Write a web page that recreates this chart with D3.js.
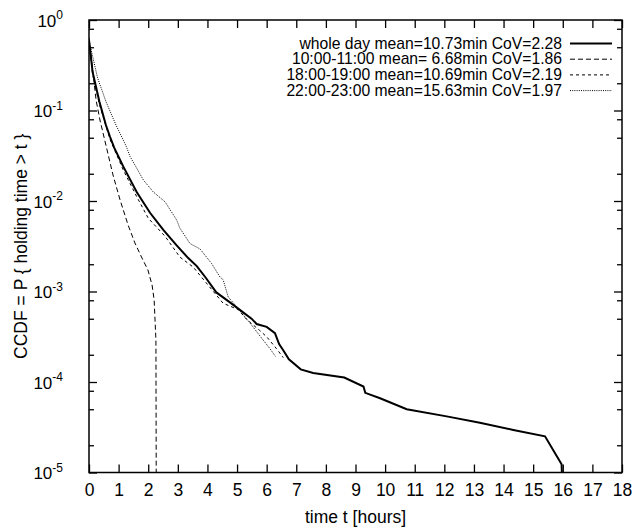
<!DOCTYPE html>
<html lang="en">
<head>
    <meta charset="UTF-8"/>
    <title>CCDF holding time</title>
    <script src="https://d3js.org/d3.v7.min.js"></script>
    <style>
        body {
            margin: 0;
            background: white;
        }

        text {
            font-family: "Liberation Sans", Arial, Helvetica, sans-serif;
            fill: black;
        }
    </style>
</head>
<body>
<div id="chart"></div>

<script>
    // [t in hours, P(holding time > t)]
    const wholeDay = [
        [0, 0.603], [0.12, 0.269], [0.35, 0.126], [0.57, 0.0692], [0.71, 0.0513], [0.85, 0.0389],
        [1.16, 0.0240], [1.61, 0.0126], [2.06, 0.00741], [2.51, 0.00479], [2.96, 0.00324],
        [3.35, 0.00234], [3.64, 0.00191], [3.95, 0.00141], [4.3, 0.000977], [4.76, 0.000759],
        [5.16, 0.000603], [5.49, 0.000501], [5.66, 0.000437], [6.0, 0.000407], [6.28, 0.000347],
        [6.42, 0.000263], [6.56, 0.000224], [6.75, 0.000178], [7.15, 0.000138], [7.57, 0.000126],
        [8.62, 0.000112], [9.27, 0.0000891], [9.33, 0.0000759], [9.83, 0.0000661],
        [10.73, 0.0000501], [12.08, 0.0000417], [13.2, 0.0000355], [14.33, 0.0000295],
        [15.4, 0.0000251], [15.96, 0.0000123], [15.97, 0.00001]
    ];
    const morning = [
        [0, 0.63], [0.24, 0.13], [0.37, 0.0785], [0.61, 0.0366], [0.81, 0.0194], [1.05, 0.01026],
        [1.32, 0.00543], [1.55, 0.00344], [1.79, 0.00234], [1.99, 0.00173], [2.13, 0.00118],
        [2.2, 0.000805], [2.23, 0.000484], [2.26, 0.000291], [2.27, 0.00001]
    ];
    const evening = [
        [0, 0.6], [0.12, 0.251], [0.35, 0.117], [0.71, 0.0479], [1.16, 0.0219], [1.61, 0.0112],
        [2.0, 0.00646], [2.57, 0.00407], [3.07, 0.0024], [3.52, 0.00186], [4.0, 0.0012],
        [4.53, 0.000741], [5.04, 0.000631], [5.33, 0.00049], [5.76, 0.000372], [6.0, 0.000316],
        [6.33, 0.000234], [6.56, 0.000186]
    ];
    const night = [
        [0, 0.63], [0.03, 0.537], [0.29, 0.229], [0.57, 0.126], [0.91, 0.0692], [1.25, 0.0407],
        [1.39, 0.0309], [1.84, 0.017], [2.17, 0.0126], [2.57, 0.00977], [2.96, 0.00617],
        [3.07, 0.00501], [3.41, 0.00339], [3.75, 0.00295], [4.14, 0.00204], [4.42, 0.00145],
        [4.53, 0.00135], [4.70, 0.000871], [4.99, 0.000676], [5.44, 0.000447], [5.89, 0.000288],
        [6.11, 0.000234], [6.3, 0.000191]
    ];

    const legendLabels = [
        "whole day mean=10.73min CoV=2.28",
        "10:00-11:00 mean= 6.68min CoV=1.86",
        "18:00-19:00 mean=10.69min CoV=2.19",
        "22:00-23:00 mean=15.63min CoV=1.97"
    ];
    const xTicks = d3.range(0, 19);
    const yMajor = [1e-5, 1e-4, 1e-3, 1e-2, 1e-1, 1];
    const yMinorMant = [2, 5, 8];

    const width = 642;
    const height = 528;
    const plot = {left: 89, right: 622, top: 20, bottom: 472.5};
    const fontSize = 17.5;

    const svg = d3.select("#chart")
        .append("svg")
        .attr("width", width)
        .attr("height", height);

    const x = d3.scaleLinear().domain([0, 18]).range([plot.left, plot.right]);
    const y = d3.scaleLog().domain([1e-5, 1]).range([plot.bottom, plot.top]);

    svg.append("clipPath")
        .attr("id", "clip")
        .append("rect")
        .attr("x", plot.left)
        .attr("y", plot.top)
        .attr("width", plot.right - plot.left)
        .attr("height", plot.bottom - plot.top);

    // ticks, all pointing inwards
    const yMinor = [];
    yMajor.slice(0, -1).forEach(d => yMinorMant.forEach(m => yMinor.push(d * m)));

    function tickStyle(g) {
        g.select(".domain").remove();
        g.selectAll("line").attr("stroke", "black").attr("stroke-width", 1.3);
    }

    svg.append("g")
        .attr("transform", `translate(0, ${plot.bottom})`)
        .call(d3.axisBottom(x).tickValues(xTicks).tickSize(-8).tickSizeOuter(0).tickPadding(11).tickFormat(d3.format("d")))
        .call(tickStyle)
        .selectAll("text")
        .style("font-size", fontSize + "px")
        .attr("fill", "black");

    svg.append("g")
        .attr("transform", `translate(0, ${plot.top})`)
        .call(d3.axisTop(x).tickValues(xTicks).tickSize(-8).tickSizeOuter(0).tickFormat(""))
        .call(tickStyle);

    [[d3.axisLeft, plot.left], [d3.axisRight, plot.right]].forEach(([ax, pos]) => {
        svg.append("g")
            .attr("transform", `translate(${pos}, 0)`)
            .call(ax(y).tickValues(yMajor).tickSize(-8).tickSizeOuter(0).tickFormat(""))
            .call(tickStyle);
        svg.append("g")
            .attr("transform", `translate(${pos}, 0)`)
            .call(ax(y).tickValues(yMinor).tickSize(-5).tickSizeOuter(0).tickFormat(""))
            .call(tickStyle);
    });

    // y labels 10^n
    const yLab = svg.append("g")
        .selectAll("text")
        .data(yMajor)
        .join("text")
        .attr("x", plot.left - 26)
        .attr("y", d => y(d) + 6.5)
        .attr("text-anchor", "end")
        .style("font-size", "17px");
    yLab.append("tspan").text("10");
    yLab.append("tspan")
        .attr("dy", -7.5)
        .style("font-size", "12px")
        .text(d => Math.round(Math.log10(d)));

    // frame
    svg.append("rect")
        .attr("x", plot.left)
        .attr("y", plot.top)
        .attr("width", plot.right - plot.left)
        .attr("height", plot.bottom - plot.top)
        .attr("fill", "none")
        .attr("stroke", "black")
        .attr("stroke-width", 1.5);

    // axis titles
    svg.append("text")
        .attr("x", (plot.left + plot.right) / 2)
        .attr("y", 523)
        .attr("text-anchor", "middle")
        .style("font-size", fontSize + "px")
        .text("time t [hours]");

    svg.append("text")
        .attr("transform", `translate(27, ${(plot.top + plot.bottom) / 2}) rotate(-90)`)
        .attr("text-anchor", "middle")
        .style("font-size", fontSize + "px")
        .text("CCDF = P { holding time > t }");

    // curves
    const series = [
        {data: wholeDay, width: 2, dash: null},
        {data: morning, width: 1, dash: "5,3"},
        {data: evening, width: 1, dash: "3,3"},
        {data: night, width: 1, dash: "1,1.2"}
    ];

    const line = d3.line()
        .x(d => x(d[0]))
        .y(d => y(d[1]));

    svg.append("g")
        .attr("clip-path", "url(#clip)")
        .selectAll("path")
        .data(series)
        .join("path")
        .attr("d", d => line(d.data))
        .attr("fill", "none")
        .attr("stroke", "black")
        .attr("stroke-width", d => d.width)
        .attr("stroke-dasharray", d => d.dash);

    // legend
    const legend = svg.append("g")
        .selectAll("g")
        .data(series)
        .join("g")
        .attr("transform", (d, i) => `translate(0, ${48.5 + i * 15.7})`);

    legend.append("text")
        .attr("x", 562)
        .attr("text-anchor", "end")
        .style("font-size", "15.7px")
        .text((d, i) => legendLabels[i]);

    legend.append("line")
        .attr("x1", 570)
        .attr("x2", 612)
        .attr("y1", -5)
        .attr("y2", -5)
        .attr("stroke", "black")
        .attr("stroke-width", d => d.width)
        .attr("stroke-dasharray", d => d.dash);
</script>
</body>
</html>
